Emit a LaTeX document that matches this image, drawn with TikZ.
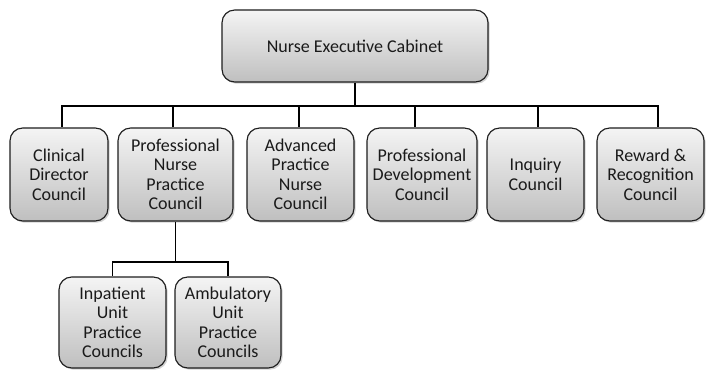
\documentclass[tikz,border=0pt]{standalone}
\usepackage{fontspec}
\setmainfont{Carlito}
\usetikzlibrary{positioning,calc,shadows}
\definecolor{BoxTop}{HTML}{F4F4F4}
\definecolor{BoxBottom}{HTML}{BFBFBF}
\definecolor{Edge}{HTML}{1E1E1E}
\definecolor{Ink}{HTML}{1A1A1A}
\tikzset{council/.style={rectangle,rounded corners=9pt,draw=Edge,line width=0.8pt,top color=BoxTop,bottom color=BoxBottom,align=center,text=Ink,inner sep=2pt,font=\fontsize{12.8}{13.8}\selectfont,drop shadow={shadow xshift=1.2pt,shadow yshift=-1.2pt,opacity=0.35}},link/.style={draw=black,line width=1.4pt}}

\begin{document}
\begin{tikzpicture}[x=0.025cm,y=0.025cm]
\useasboundingbox[fill=white] (0,0) rectangle (708,369);
% cabinet on top
\node[council,minimum width=266*0.025cm,minimum height=72*0.025cm] (NEC) at (355,323) {Nurse Executive Cabinet};
% councils row
\node[council,minimum width=98*0.025cm,minimum height=93*0.025cm] (CDC) at (59,194.5) {Clinical\\Director\\Council};
\node[council,minimum width=115*0.025cm,minimum height=93*0.025cm] (PNPC) at (175.5,194.5) {Professional\\Nurse\\Practice\\Council};
\node[council,minimum width=107*0.025cm,minimum height=93*0.025cm] (APNC) at (300.5,194.5) {Advanced\\Practice\\Nurse\\Council};
\node[council,minimum width=110*0.025cm,minimum height=93*0.025cm] (PDC) at (422,194.5) {Professional\\Development\\Council};
\node[council,minimum width=97*0.025cm,minimum height=93*0.025cm] (IC) at (535.5,194.5) {Inquiry\\Council};
\node[council,minimum width=107*0.025cm,minimum height=93*0.025cm] (RRC) at (650.5,194.5) {Reward \&\\Recognition\\Council};
% unit councils under PNPC
\node[council,minimum width=107*0.025cm,minimum height=91*0.025cm] (IUPC) at (112.5,46.5) {Inpatient\\Unit\\Practice\\Councils};
\node[council,minimum width=106*0.025cm,minimum height=91*0.025cm] (AUPC) at (228,46.5) {Ambulatory\\Unit\\Practice\\Councils};
% bus lines
\coordinate (bus) at (0,263);
\coordinate (subbus) at (0,107);
\draw[link] (NEC.south) -- (NEC.south |- bus) -| ($(CDC.north)+(3,0)$);
\draw[link] (NEC.south |- bus) -| ($(PNPC.north)+(-2.5,0)$);
\draw[link] (NEC.south |- bus) -| ($(APNC.north)+(-1.5,0)$);
\draw[link] (NEC.south |- bus) -| ($(PDC.north)+(-7,0)$);
\draw[link] (NEC.south |- bus) -| ($(IC.north)+(2.5,0)$);
\draw[link] (NEC.south |- bus) -| ($(RRC.north)+(7.5,0)$);
\draw[link] (PNPC.south) -- (PNPC.south |- subbus) -| (IUPC.north);
\draw[link] (PNPC.south |- subbus) -| (AUPC.north);
\end{tikzpicture}
\end{document}
